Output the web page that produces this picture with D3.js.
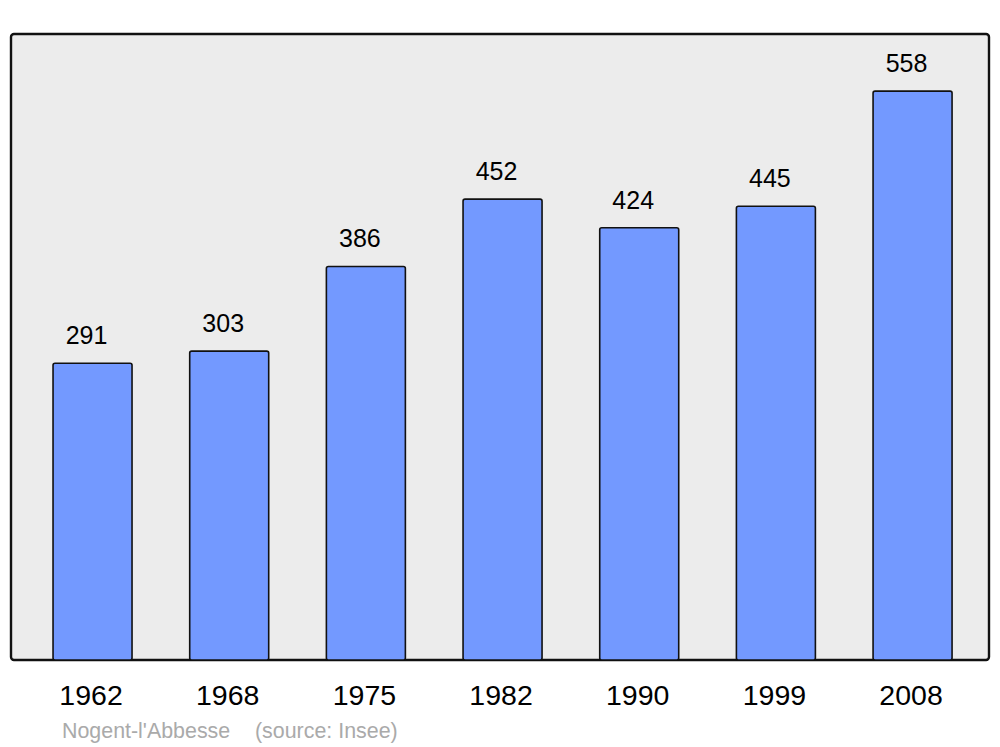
<!DOCTYPE html>
<html>
<head>
<meta charset="utf-8">
<script src="https://cdn.jsdelivr.net/npm/d3@7"></script>
<style>
  body { margin: 0; background: #fff; }
  svg text { font-family: "Liberation Sans", Arial, sans-serif; }
</style>
</head>
<body>
<div id="chart"></div>
<script>
// Population data
const years = ["1962", "1968", "1975", "1982", "1990", "1999", "2008"];
const population = [291, 303, 386, 452, 424, 445, 558];
const townName = "Nogent-l'Abbesse";
const sourceText = "(source: Insee)";

const width = 1000, height = 747;
const panel = { left: 11, top: 34, right: 989, bottom: 660 };

const svg = d3.select("#chart")
    .append("svg")
    .attr("width", width)
    .attr("height", height);

// Background panel
svg.append("rect")
    .attr("x", panel.left)
    .attr("y", panel.top)
    .attr("width", panel.right - panel.left)
    .attr("height", panel.bottom - panel.top)
    .attr("rx", 3)
    .attr("fill", "#ececec")
    .attr("stroke", "#111")
    .attr("stroke-width", 2.4);

// Scales
const x = d3.scaleBand()
    .domain(years)
    .range([24.2, 980.9])
    .paddingInner(0.422)
    .paddingOuter(0.211);

const y = d3.scaleLinear()
    .domain([0, 614])
    .range([panel.bottom, panel.top]);

const data = years.map((yr, i) => ({ year: yr, value: population[i] }));

// Bars
svg.append("g")
    .selectAll("rect")
    .data(data)
    .enter()
    .append("rect")
    .attr("x", d => x(d.year))
    .attr("y", d => y(d.value))
    .attr("width", x.bandwidth())
    .attr("height", d => y(0) - y(d.value))
    .attr("rx", 2)
    .attr("fill", "#7399ff")
    .attr("stroke", "#111")
    .attr("stroke-width", 1.6);

// Value labels
svg.append("g")
    .selectAll("text")
    .data(data)
    .enter()
    .append("text")
    .attr("x", d => x(d.year) + x.bandwidth() / 2 - 6)
    .attr("y", d => y(d.value) - 19)
    .attr("text-anchor", "middle")
    .style("font-size", "25px")
    .attr("fill", "#000")
    .text(d => d.value);

// Year axis labels
const xAxis = svg.append("g")
    .attr("transform", `translate(-1.5,${panel.bottom})`)
    .call(d3.axisBottom(x).tickSize(0).tickPadding(0));
xAxis.select(".domain").remove();
xAxis.selectAll("text")
    .attr("dy", null)
    .attr("y", 45)
    .style("font-size", "28.5px")
    .attr("font-family", null)
    .attr("fill", "#000");

// Footer
svg.append("text")
    .attr("x", 62)
    .attr("y", 738)
    .style("font-size", "21.4px")
    .attr("fill", "#aaaaaa")
    .text(townName);
svg.append("text")
    .attr("x", 255)
    .attr("y", 738)
    .style("font-size", "21.4px")
    .attr("fill", "#aaaaaa")
    .text(sourceText);
</script>
</body>
</html>
